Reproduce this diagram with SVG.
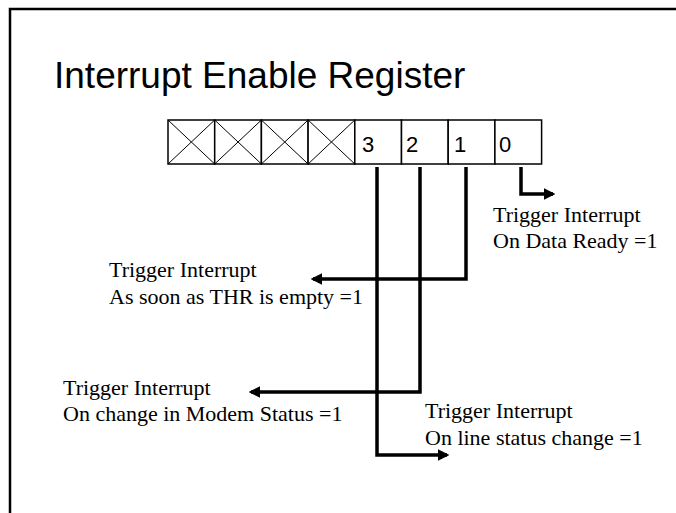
<svg xmlns="http://www.w3.org/2000/svg" width="676" height="513" viewBox="0 0 676 513">
<style>
.frame{fill:none;stroke:#000;stroke-width:2.5}
.cell{fill:#fff;stroke:#000;stroke-width:1.5}
.x{stroke:#000;stroke-width:1}
.title{font-family:"Liberation Sans",Arial,sans-serif;font-size:37px;fill:#000}
.bit{font-family:"Liberation Sans",Arial,sans-serif;font-size:22px;fill:#000}
.lbl{font-family:"Liberation Serif","Times New Roman",serif;font-size:22px;fill:#000}
.conn{fill:none;stroke:#000;stroke-width:3.5}
</style>
<defs>
<marker id="ah" viewBox="0 0 10 10" refX="8" refY="5" markerWidth="3.3" markerHeight="3.3" markerUnits="strokeWidth" orient="auto">
<path d="M0,0 L10,5 L0,10 Z" fill="#000"/>
</marker>
</defs>
<rect width="676" height="513" fill="#fff"/>
<path class="frame" d="M10,513 V9 H676"/>
<g id="title"><text class="title" x="54" y="88">Interrupt Enable Register</text></g>
<g id="register">
<rect class="cell" x="168" y="120" width="46.7" height="44"/>
<rect class="cell" x="214.7" y="120" width="46.7" height="44"/>
<rect class="cell" x="261.4" y="120" width="46.7" height="44"/>
<rect class="cell" x="308.1" y="120" width="46.7" height="44"/>
<rect class="cell" x="354.8" y="120" width="46.7" height="44"/>
<rect class="cell" x="401.5" y="120" width="46.7" height="44"/>
<rect class="cell" x="448.2" y="120" width="46.7" height="44"/>
<rect class="cell" x="494.9" y="120" width="46.7" height="44"/>
<path class="x" d="M168,120 L214.7,164 M214.7,120 L168,164 M214.7,120 L261.4,164 M261.4,120 L214.7,164 M261.4,120 L308.1,164 M308.1,120 L261.4,164 M308.1,120 L354.8,164 M354.8,120 L308.1,164"/>
<text class="bit" x="362" y="152">3</text>
<text class="bit" x="406" y="152">2</text>
<text class="bit" x="454" y="152">1</text>
<text class="bit" x="499" y="152">0</text>
</g>
<g id="connectors">
<polyline class="conn" points="521,167 521,194 553,194" marker-end="url(#ah)"/>
<polyline class="conn" points="466,167 466,279 313,279" marker-end="url(#ah)"/>
<polyline class="conn" points="420,167 420,392 251,392" marker-end="url(#ah)"/>
<polyline class="conn" points="377,167 377,455 447,455" marker-end="url(#ah)"/>
</g>
<g id="bit0-label"><text class="lbl" x="493" y="222">Trigger Interrupt</text><text class="lbl" x="493" y="248">On Data Ready =1</text></g>
<g id="bit1-label"><text class="lbl" x="109" y="277">Trigger Interrupt</text><text class="lbl" x="109" y="304">As soon as THR is empty =1</text></g>
<g id="bit2-label"><text class="lbl" x="63" y="395">Trigger Interrupt</text><text class="lbl" x="63" y="421">On change in Modem Status =1</text></g>
<g id="bit3-label"><text class="lbl" x="425" y="418">Trigger Interrupt</text><text class="lbl" x="425" y="445">On line status change =1</text></g>
</svg>
